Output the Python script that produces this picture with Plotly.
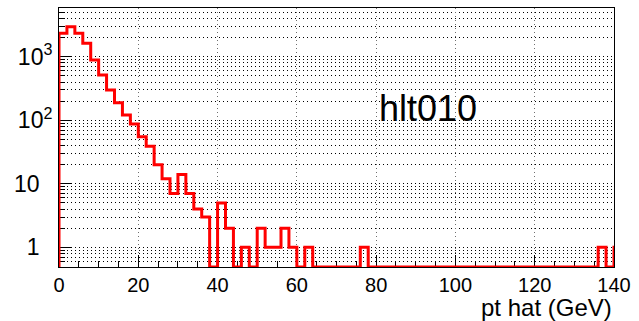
import numpy as np
import plotly.graph_objects as go

# ---- data ----
bin_width = 2.0
x_start = 0.0
counts = [2340, 2970, 2340, 1625, 887, 515, 299, 188, 121, 87,
          55, 39, 20, 12, 7, 14, 7, 4, 3, 0,
          5, 2, 0, 1, 0, 2, 1, 1, 2, 1,
          0, 1, 0, 0, 0, 0, 0, 0, 1, 0,
          0, 0, 0, 0, 0, 0, 0, 0, 0, 0,
          0, 0, 0, 0, 0, 0, 0, 0, 0, 0,
          0, 0, 0, 0, 0, 0, 0, 0, 1, 0,
          1]
label_text = "hlt010"
x_title = "pt hat (GeV)"
y_tick_vals = [1, 10, 100, 1000]
y_tick_text = ["1&nbsp;&nbsp;", "10&nbsp;&nbsp;", "10<sup>2</sup>", "10<sup>3</sup>"]

# ---- layout constants ----
y_log_min, y_log_max = -0.31, 3.767
y_floor = 10 ** y_log_min
FONT = "Liberation Sans, Arial, Helvetica, sans-serif"
DOTS = "1px,3px"

edges = x_start + bin_width * np.arange(len(counts) + 1)
vals = [c if c > 0 else y_floor for c in counts]
xs = [edges[0]] + list(edges)
ys = [y_floor] + vals + [vals[-1]]

minor_vals = [k * 10.0 ** d for d in range(-1, 4) for k in range(2, 10)
              if y_log_min <= np.log10(k * 10.0 ** d) <= y_log_max]

fig = go.Figure()
fig.add_trace(go.Scatter(x=xs, y=ys, mode="lines", line_shape="hv",
                         line=dict(color="#ff0000", width=3),
                         hoverinfo="skip", showlegend=False))

fig.update_layout(
    width=639, height=321,
    margin=dict(l=59, r=25, t=8, b=54),
    paper_bgcolor="white", plot_bgcolor="white",
    font=dict(family=FONT, color="black"),
    showlegend=False,
)
fig.update_xaxes(
    range=[0, 140], dtick=20, tick0=0,
    showline=True, linecolor="black", linewidth=1, mirror=True,
    ticks="inside", ticklen=12, tickcolor="black", tickwidth=1,
    tickfont=dict(size=20, family=FONT, color="black"),
    ticklabelstandoff=0,
    showgrid=True, gridcolor="#6f6f6f", griddash=DOTS, gridwidth=1,
    zeroline=False, layer="below traces",
    minor=dict(dtick=5, ticks="inside", ticklen=6, tickcolor="black", showgrid=False),
)
fig.update_yaxes(
    type="log", range=[y_log_min, y_log_max],
    tickvals=y_tick_vals, ticktext=y_tick_text,
    showline=True, linecolor="black", linewidth=1, mirror=True,
    ticks="inside", ticklen=12, tickcolor="black", tickwidth=1,
    tickfont=dict(size=23, family=FONT, color="black"),
    ticklabelstandoff=1,
    showgrid=True, gridcolor="black", griddash=DOTS, gridwidth=1,
    zeroline=False, layer="below traces",
    minor=dict(tickvals=minor_vals, ticks="inside", ticklen=6, tickcolor="black",
               showgrid=True, gridcolor="black", griddash=DOTS, gridwidth=1),
)

fig.add_annotation(text=label_text, xref="paper", yref="paper",
                   x=0.664, y=0.612, xanchor="center", yanchor="middle",
                   showarrow=False, font=dict(size=36, family=FONT, color="black"))
fig.add_annotation(text=x_title, xref="paper", yref="paper",
                   x=1.0, y=-0.157, xanchor="right", yanchor="middle",
                   showarrow=False, font=dict(size=24, family=FONT, color="black"))

fig.write_html("out.html")
